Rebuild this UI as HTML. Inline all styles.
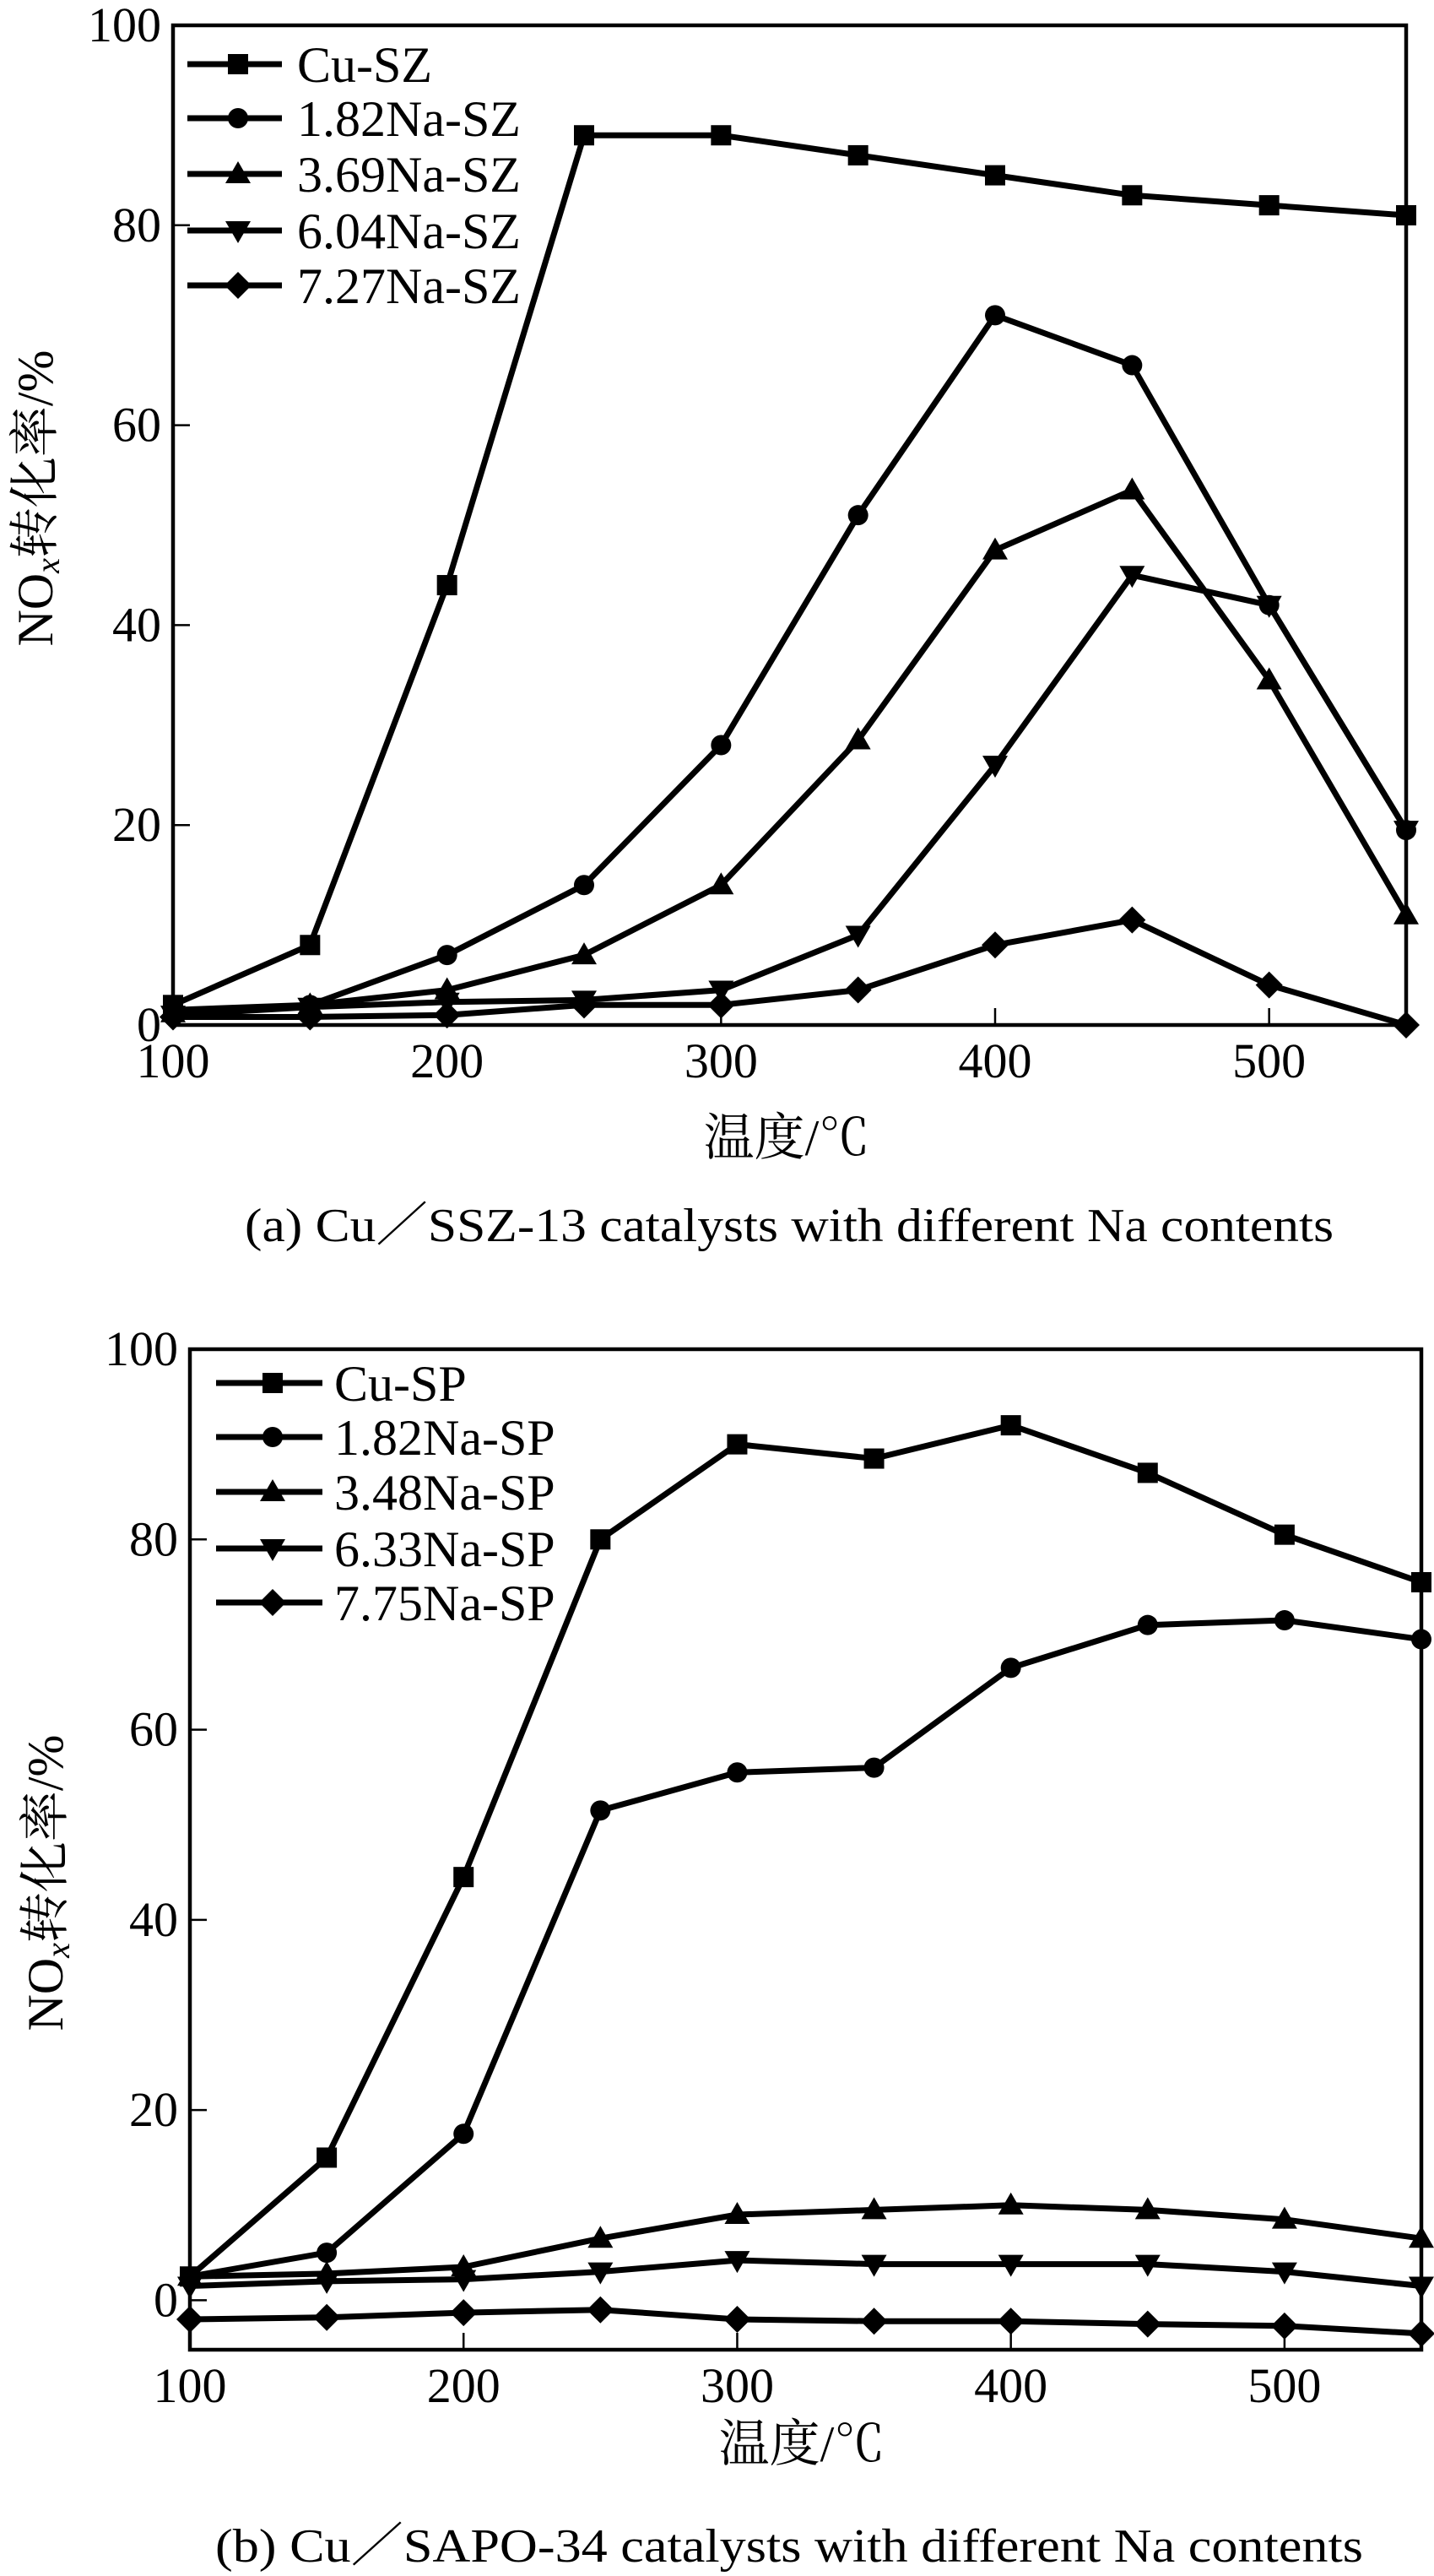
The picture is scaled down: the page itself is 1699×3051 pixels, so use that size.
<!DOCTYPE html>
<html><head><meta charset="utf-8"><style>
html,body{margin:0;padding:0;background:#fff;}
svg{display:block;font-family:"Liberation Serif","Noto Serif CJK SC",serif;}
</style></head><body>
<svg id="fig" width="1699" height="3051" viewBox="0 0 1699 3051" xmlns="http://www.w3.org/2000/svg"></svg>
<script>
const xTicks = [100,200,300,400,500];
const xCats = [100,150,200,250,300,350,400,450,500,550];
const yTicks = [0,20,40,60,80,100];
const aNames = ["Cu-SZ","1.82Na-SZ","3.69Na-SZ","6.04Na-SZ","7.27Na-SZ"];
const aCu = [2,8,44,89,89,87,85,83,82,81];
const aNa182 = [1.5,2,7,14,28,51,71,66,42,19.5];
const aNa369 = [1.2,2,3.5,7,14,28.5,47.5,53.5,34.5,11];
const aNa604 = [1,1.8,2.3,2.5,3.5,9,26,45,42,19.5];
const aNa727 = [0.8,0.8,1,2,2,3.5,8,10.5,4,0];
const bNames = ["Cu-SP","1.82Na-SP","3.48Na-SP","6.33Na-SP","7.75Na-SP"];
const bCu = [2.5,15,44.5,80,90,88.5,92,87,80.5,75.5];
const bNa182 = [2.5,5,17.5,51.5,55.5,56,66.5,71,71.5,69.5];
const bNa348 = [2.5,2.8,3.5,6.5,9,9.5,10,9.5,8.5,6.5];
const bNa633 = [1.5,2,2.2,3,4.2,3.8,3.8,3.8,3,1.5];
const bNa775 = [-2,-1.8,-1.3,-1,-2,-2.2,-2.2,-2.5,-2.7,-3.5];

const NS="http://www.w3.org/2000/svg";
const svg=document.getElementById('fig');
function mk(tag,attrs,parent){const e=document.createElementNS(NS,tag);for(const k in attrs)e.setAttribute(k,attrs[k]);(parent||svg).appendChild(e);return e;}
const markers=["square","circle","triangle","tridown","diamond"];
function marker(g,type,x,y){
  let e;
  if(type==="square") e=mk('rect',{x:x-12,y:y-12,width:24,height:24,fill:'#000'},g);
  else if(type==="circle") e=mk('circle',{cx:x,cy:y,r:12,fill:'#000'},g);
  else if(type==="triangle") e=mk('polygon',{points:`${x},${y-15} ${x+15},${y+11} ${x-15},${y+11}`,fill:'#000'},g);
  else if(type==="tridown") e=mk('polygon',{points:`${x},${y+15} ${x+15},${y-11} ${x-15},${y-11}`,fill:'#000'},g);
  else e=mk('polygon',{points:`${x},${y-16} ${x+16},${y} ${x},${y+16} ${x-16},${y}`,fill:'#000'},g);
  
  
}
function chart(cfg){
  const g=mk('g',{});
  
  
  const xs=v=>cfg.L+(v-100)/(550-100)*(cfg.R-cfg.L);
  const ys=v=>cfg.B-(v-cfg.ymin)/(100-cfg.ymin)*(cfg.B-cfg.T);
  xTicks.forEach(t=>{
    const l=mk('line',{x1:xs(t),x2:xs(t),y1:cfg.B,y2:cfg.B-20,stroke:'#000','stroke-width':2.5},g);
    
    
    const tx=mk('text',{x:xs(t),y:cfg.B+62,'font-size':58,'text-anchor':'middle'},g);
    tx.textContent=t;
    
    
  });
  yTicks.forEach(t=>{
    const l=mk('line',{x1:cfg.L,x2:cfg.L+20,y1:ys(t),y2:ys(t),stroke:'#000','stroke-width':2.5},g);
    
    
    const tx=mk('text',{x:cfg.L-14,y:ys(t)+19,'font-size':58,'text-anchor':'end'},g);
    tx.textContent=t;
    
    
  });
  cfg.series.forEach((s,i)=>{
    const sg=mk('g',{},g);
    
    
    const pts=s.map((v,j)=>xs(xCats[j]).toFixed(1)+','+ys(v).toFixed(1)).join(' ');
    const pl=mk('polyline',{points:pts,fill:'none',stroke:'#000','stroke-width':7,'stroke-linejoin':'round'},sg);
    
    
    s.forEach((v,j)=>marker(sg,markers[i],xs(xCats[j]),ys(v)));
  });
  const fr=mk('rect',{x:cfg.L,y:cfg.T,width:cfg.R-cfg.L,height:cfg.B-cfg.T,fill:'none',stroke:'#000','stroke-width':4.5},g);
  
  
  const lg=mk('g',{},g);
  
  
  cfg.names.forEach((n,i)=>{
    const y=cfg.legY[i];
    const eg=mk('g',{},lg);
    
    
    mk('line',{x1:cfg.legX1,x2:cfg.legX2,y1:y,y2:y,stroke:'#000','stroke-width':7},eg);
    marker(eg,markers[i],(cfg.legX1+cfg.legX2)/2+4,y);
    const t=mk('text',{x:cfg.legTX,y:y+21,'font-size':60},eg);
    t.textContent=n;
  });
  const xt=mk('text',{x:cfg.xtX,y:cfg.xtY,'font-size':60,'text-anchor':'middle'},g);
  xt.textContent='温度/℃';
  
  
  const yt=mk('text',{x:0,y:0,'font-size':60,'text-anchor':'middle',transform:`translate(${cfg.ytX},${cfg.ytY}) rotate(-90)`},g);
  yt.innerHTML='NO<tspan font-size="40" font-style="italic" dy="8">x</tspan><tspan dy="-8">转化率/%</tspan>';
  
  
  const cp=mk('text',{x:cfg.capX,y:cfg.capY,'font-size':56,textLength:cfg.capW,lengthAdjust:'spacingAndGlyphs'},g);
  cp.textContent=cfg.cap;
  
  
}
chart({id:'chart-a',L:205,R:1666,T:30,B:1214,ymin:0,series:[aCu,aNa182,aNa369,aNa604,aNa727],names:aNames,
  legY:[76,140,206,273,338],legX1:222,legX2:334,legTX:352,xtX:932,xtY:1368,ytX:62,ytY:590,
  cap:'(a) Cu／SSZ-13 catalysts with different Na contents',capX:290,capY:1470,capW:1290});
chart({id:'chart-b',L:225,R:1684,T:1598,B:2783,ymin:-5.2,series:[bCu,bNa182,bNa348,bNa633,bNa775],names:bNames,
  legY:[1638,1702,1767,1834,1898],legX1:256,legX2:382,legTX:396,xtX:950,xtY:2915,ytX:74,ytY:2230,
  cap:'(b) Cu／SAPO-34 catalysts with different Na contents',capX:255,capY:3034,capW:1360});
</script>
</body></html>
